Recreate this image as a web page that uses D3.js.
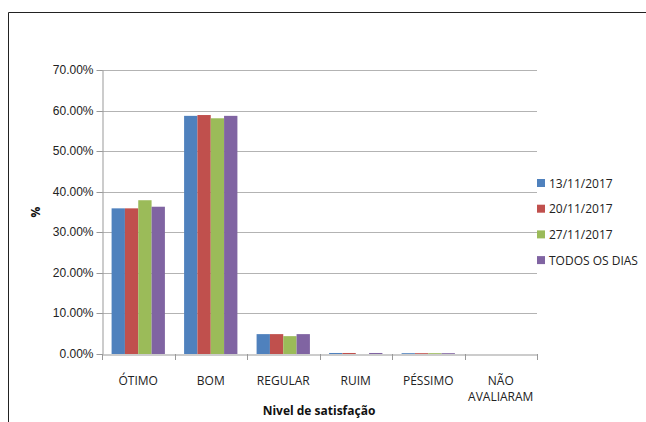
<!DOCTYPE html>
<html>
<head>
<meta charset="utf-8">
<script src="https://cdn.jsdelivr.net/npm/d3@7"></script>
<style>
  body { margin: 0; background: #fff; }
  svg { display: block; font-family: "Open Sans", "Liberation Sans", sans-serif; }
</style>
</head>
<body>
<svg width="646" height="422"></svg>
<script>
var categories = ["ÓTIMO", "BOM", "REGULAR", "RUIM", "PÉSSIMO", "NÃO AVALIARAM"];
var seriesNames = ["13/11/2017", "20/11/2017", "27/11/2017", "TODOS OS DIAS"];
var colors = ["#4F81BD", "#C0504D", "#9BBB59", "#8064A2"];

var s1 = [35.9, 58.7, 4.9, 0.25, 0.2, 0];
var s2 = [35.9, 58.9, 4.9, 0.25, 0.2, 0];
var s3 = [37.9, 58.1, 4.4, 0, 0.2, 0];
var s4 = [36.3, 58.7, 4.9, 0.25, 0.2, 0];
var series = [s1, s2, s3, s4];

var yTicks = [0, 10, 20, 30, 40, 50, 60, 70];

var svg = d3.select("svg");

// outer chart frame (only top and left edges are visible)
svg.append("line").attr("x1", 8.5).attr("x2", 646).attr("y1", 12.5).attr("y2", 12.5)
  .attr("stroke", "#222").attr("stroke-width", 1);
svg.append("line").attr("x1", 8.5).attr("x2", 8.5).attr("y1", 12.5).attr("y2", 422)
  .attr("stroke", "#222").attr("stroke-width", 1);

var plotLeft = 102, plotRight = 537, plotTop = 70, plotBottom = 354;

var x = d3.scaleBand().domain(categories).range([plotLeft, plotRight]).paddingInner(0).paddingOuter(0);
var x1 = d3.scaleBand().domain(d3.range(seriesNames.length)).range([0, x.bandwidth()]).paddingInner(0).paddingOuter(0.72);
var y = d3.scaleLinear().domain([0, 70]).range([plotBottom, plotTop]);

// gridlines
svg.append("g").selectAll("line").data(yTicks.slice(1)).enter().append("line")
  .attr("x1", plotLeft).attr("x2", plotRight)
  .attr("y1", function(d) { return Math.round(y(d)) + 0.5; })
  .attr("y2", function(d) { return Math.round(y(d)) + 0.5; })
  .attr("stroke", "#b3b3b3");

// y axis
var yAxis = svg.append("g")
  .attr("transform", "translate(" + (plotLeft + 0.5) + ",0)")
  .call(d3.axisLeft(y).tickValues(yTicks).tickSize(6).tickSizeOuter(0)
    .tickFormat(function(d) { return d.toFixed(2) + "%"; }));
yAxis.select(".domain").attr("stroke", "#999");
yAxis.selectAll(".tick line").attr("stroke", "#999");
yAxis.selectAll("text").attr("fill", "#222").attr("font-size", 12).attr("x", -9);
yAxis.selectAll(".tick").attr("transform", function(d) { return "translate(0," + (Math.round(y(d)) + 0.5) + ")"; });

// bars
var groups = svg.append("g").selectAll("g").data(categories).enter().append("g")
  .attr("transform", function(d) { return "translate(" + x(d) + ",0)"; });

groups.selectAll("rect")
  .data(function(d, i) { return series.map(function(s, j) { return { k: j, v: s[i] }; }); })
  .enter().append("rect")
  .attr("x", function(d) { return x1(d.k); })
  .attr("width", x1.bandwidth())
  .attr("y", function(d) { return y(d.v); })
  .attr("height", function(d) { return plotBottom - y(d.v); })
  .attr("fill", function(d) { return colors[d.k]; });

// x axis
var xAxis = svg.append("g")
  .attr("transform", "translate(0," + (plotBottom + 0.5) + ")")
  .call(d3.axisBottom(x).tickSize(0).tickSizeOuter(0));
xAxis.select(".domain").attr("stroke", "#999");
xAxis.selectAll("text").remove();
svg.append("g").selectAll("line").data(d3.range(categories.length + 1)).enter().append("line")
  .attr("x1", function(i) { return Math.round(plotLeft + i * x.bandwidth()) + 0.5; })
  .attr("x2", function(i) { return Math.round(plotLeft + i * x.bandwidth()) + 0.5; })
  .attr("y1", plotBottom).attr("y2", plotBottom + 6)
  .attr("stroke", "#999");

// category labels (NÃO AVALIARAM wraps onto two lines)
var labelLines = [];
categories.forEach(function(c) {
  var words = c === "NÃO AVALIARAM" ? ["NÃO", "AVALIARAM"] : [c];
  words.forEach(function(w, i) { labelLines.push({ cat: c, text: w, line: i }); });
});
svg.append("g").selectAll("text").data(labelLines).enter().append("text")
  .attr("x", function(d) { return x(d.cat) + x.bandwidth() / 2; })
  .attr("y", function(d) { return 385 + d.line * 16; })
  .attr("text-anchor", "middle")
  .attr("font-size", 12)
  .attr("fill", "#222")
  .text(function(d) { return d.text; });

// axis titles
svg.append("text")
  .attr("x", 319).attr("y", 415)
  .attr("text-anchor", "middle").attr("font-size", 12).attr("font-weight", "bold")
  .attr("fill", "#111").text("Nivel de satisfação");
svg.append("text")
  .attr("transform", "translate(40,212) rotate(-90)")
  .attr("text-anchor", "middle").attr("font-size", 12).attr("font-weight", "bold")
  .attr("fill", "#111").text("%");

// legend
var legend = svg.append("g").selectAll("g").data(seriesNames).enter().append("g")
  .attr("transform", function(d, i) { return "translate(537," + (183 + i * 25.7) + ")"; });
legend.append("rect").attr("x", 0).attr("y", -4).attr("width", 8).attr("height", 8)
  .attr("fill", function(d, i) { return colors[i]; });
legend.append("text").attr("x", 12).attr("y", 4.5)
  .attr("font-size", 12).attr("fill", "#222").text(function(d) { return d; });
</script>
</body>
</html>
